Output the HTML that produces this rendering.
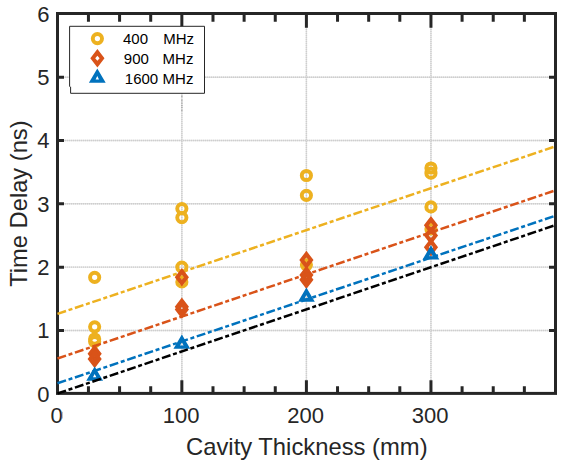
<!DOCTYPE html>
<html><head><meta charset="utf-8"><style>
html,body{margin:0;padding:0;background:#fff;}
body{width:566px;height:463px;overflow:hidden;}
svg{display:block;}
</style></head><body>
<svg width="566" height="463" viewBox="0 0 566 463" shape-rendering="geometricPrecision">
<rect x="0" y="0" width="566" height="463" fill="#ffffff"/>
<g stroke="#dfdfdf" stroke-width="1.4"><line x1="181.85" y1="15" x2="181.85" y2="393"/><line x1="306.40" y1="15" x2="306.40" y2="393"/><line x1="430.95" y1="15" x2="430.95" y2="393"/><line x1="59" y1="330.44" x2="555" y2="330.44"/><line x1="59" y1="267.13" x2="555" y2="267.13"/><line x1="59" y1="203.82" x2="555" y2="203.82"/><line x1="59" y1="140.51" x2="555" y2="140.51"/><line x1="59" y1="77.20" x2="555" y2="77.20"/></g>
<g stroke="#cecece" stroke-width="1.4" stroke-dasharray="1 1"><line x1="181.85" y1="15" x2="181.85" y2="393"/><line x1="306.40" y1="15" x2="306.40" y2="393"/><line x1="430.95" y1="15" x2="430.95" y2="393"/><line x1="59" y1="330.44" x2="555" y2="330.44"/><line x1="59" y1="267.13" x2="555" y2="267.13"/><line x1="59" y1="203.82" x2="555" y2="203.82"/><line x1="59" y1="140.51" x2="555" y2="140.51"/><line x1="59" y1="77.20" x2="555" y2="77.20"/></g>
<path d="M88.44,393.5v-7.3M88.44,13.5v8.2M119.58,393.5v-7.3M119.58,13.5v8.2M150.71,393.5v-7.3M150.71,13.5v8.2M181.85,393.5v-13.3M181.85,13.5v14.3M212.99,393.5v-7.3M212.99,13.5v8.2M244.12,393.5v-7.3M244.12,13.5v8.2M275.26,393.5v-7.3M275.26,13.5v8.2M306.40,393.5v-13.3M306.40,13.5v14.3M337.54,393.5v-7.3M337.54,13.5v8.2M368.68,393.5v-7.3M368.68,13.5v8.2M399.81,393.5v-7.3M399.81,13.5v8.2M430.95,393.5v-13.3M430.95,13.5v14.3M462.09,393.5v-7.3M462.09,13.5v8.2M493.23,393.5v-7.3M493.23,13.5v8.2M524.36,393.5v-7.3M524.36,13.5v8.2M57.5,330.44h6.5M555.5,330.44h-6.5M57.5,267.13h6.5M555.5,267.13h-6.5M57.5,203.82h6.5M555.5,203.82h-6.5M57.5,140.51h6.5M555.5,140.51h-6.5M57.5,77.20h6.5M555.5,77.20h-6.5" stroke="#262626" stroke-width="3" fill="none"/>
<rect x="57.5" y="13.5" width="498.0" height="379.9" fill="none" stroke="#262626" stroke-width="3"/>
<circle cx="94.66" cy="277.30" r="4.6" fill="none" stroke="#EDB120" stroke-width="3.95"/><circle cx="94.66" cy="326.80" r="4.6" fill="none" stroke="#EDB120" stroke-width="3.95"/><circle cx="94.66" cy="339.00" r="4.6" fill="none" stroke="#EDB120" stroke-width="3.95"/><circle cx="94.66" cy="341.60" r="4.6" fill="none" stroke="#EDB120" stroke-width="3.95"/><circle cx="181.85" cy="208.60" r="4.6" fill="none" stroke="#EDB120" stroke-width="3.95"/><circle cx="181.85" cy="217.60" r="4.6" fill="none" stroke="#EDB120" stroke-width="3.95"/><circle cx="181.85" cy="267.10" r="4.6" fill="none" stroke="#EDB120" stroke-width="3.95"/><circle cx="181.85" cy="281.90" r="4.6" fill="none" stroke="#EDB120" stroke-width="3.95"/><circle cx="306.40" cy="175.50" r="4.6" fill="none" stroke="#EDB120" stroke-width="3.95"/><circle cx="306.40" cy="195.30" r="4.6" fill="none" stroke="#EDB120" stroke-width="3.95"/><circle cx="306.40" cy="264.80" r="4.6" fill="none" stroke="#EDB120" stroke-width="3.95"/><circle cx="430.95" cy="168.00" r="4.6" fill="none" stroke="#EDB120" stroke-width="3.95"/><circle cx="430.95" cy="173.20" r="4.6" fill="none" stroke="#EDB120" stroke-width="3.95"/><circle cx="430.95" cy="206.90" r="4.6" fill="none" stroke="#EDB120" stroke-width="3.95"/><circle cx="430.95" cy="229.00" r="4.6" fill="none" stroke="#EDB120" stroke-width="3.95"/>
<line x1="57.50" y1="313.90" x2="555.50" y2="146.30" stroke="#EDB120" stroke-width="2.5" stroke-dasharray="8.968 2.696 4.009 2.696"/>
<path d="M94.66,344.50L101.76,353.80L94.66,363.10L87.56,353.80ZM94.66,351.30L96.86,353.80L94.66,356.30L92.46,353.80Z" fill="#D95319" fill-rule="evenodd"/><path d="M94.66,349.70L101.76,359.00L94.66,368.30L87.56,359.00ZM94.66,356.50L96.86,359.00L94.66,361.50L92.46,359.00Z" fill="#D95319" fill-rule="evenodd"/><path d="M181.85,267.90L188.95,277.20L181.85,286.50L174.75,277.20ZM181.85,274.70L184.05,277.20L181.85,279.70L179.65,277.20Z" fill="#D95319" fill-rule="evenodd"/><path d="M181.85,297.50L188.95,306.80L181.85,316.10L174.75,306.80ZM181.85,304.30L184.05,306.80L181.85,309.30L179.65,306.80Z" fill="#D95319" fill-rule="evenodd"/><path d="M181.85,300.20L188.95,309.50L181.85,318.80L174.75,309.50ZM181.85,307.00L184.05,309.50L181.85,312.00L179.65,309.50Z" fill="#D95319" fill-rule="evenodd"/><path d="M306.40,250.80L313.50,260.10L306.40,269.40L299.30,260.10ZM306.40,257.60L308.60,260.10L306.40,262.60L304.20,260.10Z" fill="#D95319" fill-rule="evenodd"/><path d="M306.40,265.70L313.50,275.00L306.40,284.30L299.30,275.00ZM306.40,272.50L308.60,275.00L306.40,277.50L304.20,275.00Z" fill="#D95319" fill-rule="evenodd"/><path d="M306.40,270.50L313.50,279.80L306.40,289.10L299.30,279.80ZM306.40,277.30L308.60,279.80L306.40,282.30L304.20,279.80Z" fill="#D95319" fill-rule="evenodd"/><path d="M430.95,215.90L438.05,225.20L430.95,234.50L423.85,225.20ZM430.95,222.70L433.15,225.20L430.95,227.70L428.75,225.20Z" fill="#D95319" fill-rule="evenodd"/><path d="M430.95,226.20L438.05,235.50L430.95,244.80L423.85,235.50ZM430.95,233.00L433.15,235.50L430.95,238.00L428.75,235.50Z" fill="#D95319" fill-rule="evenodd"/><path d="M430.95,238.00L438.05,247.30L430.95,256.60L423.85,247.30ZM430.95,244.80L433.15,247.30L430.95,249.80L428.75,247.30Z" fill="#D95319" fill-rule="evenodd"/>
<line x1="57.50" y1="358.50" x2="555.50" y2="190.30" stroke="#D95319" stroke-width="2.5" stroke-dasharray="8.972 2.697 4.011 2.697"/>
<path d="M94.66,366.40L103.06,380.70L86.26,380.70ZM94.66,374.00L96.36,377.30L92.96,377.30Z" fill="#0072BD" fill-rule="evenodd"/><path d="M181.85,334.50L190.25,348.80L173.45,348.80ZM181.85,342.10L183.55,345.40L180.15,345.40Z" fill="#0072BD" fill-rule="evenodd"/><path d="M306.40,287.40L314.80,301.70L298.00,301.70ZM306.40,295.00L308.10,298.30L304.70,298.30Z" fill="#0072BD" fill-rule="evenodd"/><path d="M430.95,245.30L439.35,259.60L422.55,259.60ZM430.95,252.90L432.65,256.20L429.25,256.20Z" fill="#0072BD" fill-rule="evenodd"/>
<line x1="57.50" y1="383.30" x2="555.50" y2="215.70" stroke="#0072BD" stroke-width="2.5" stroke-dasharray="8.968 2.696 4.009 2.696"/>
<line x1="57.50" y1="393.50" x2="555.50" y2="225.10" stroke="#000000" stroke-width="2.5" stroke-dasharray="8.973 2.697 4.011 2.697"/>
<g font-family='"Liberation Sans", sans-serif' font-size="22" fill="#262626"><text transform="translate(49.6,401.65) scale(1,1.03)" text-anchor="end">0</text><text transform="translate(49.6,338.34) scale(1,1.03)" text-anchor="end">1</text><text transform="translate(49.6,275.03) scale(1,1.03)" text-anchor="end">2</text><text transform="translate(49.6,211.72) scale(1,1.03)" text-anchor="end">3</text><text transform="translate(49.6,148.41) scale(1,1.03)" text-anchor="end">4</text><text transform="translate(49.6,85.10) scale(1,1.03)" text-anchor="end">5</text><text transform="translate(49.6,21.79) scale(1,1.03)" text-anchor="end">6</text><text transform="translate(56.50,423) scale(1,1.03)" text-anchor="middle">0</text><text transform="translate(181.05,423) scale(1,1.03)" text-anchor="middle">100</text><text transform="translate(305.60,423) scale(1,1.03)" text-anchor="middle">200</text><text transform="translate(430.15,423) scale(1,1.03)" text-anchor="middle">300</text></g>
<rect x="181.15" y="95.80" width="1.4" height="1.2" fill="#aaaaaa"/>
<rect x="181.15" y="99.70" width="1.4" height="1.2" fill="#aaaaaa"/>
<rect x="181.15" y="102.50" width="1.4" height="1.2" fill="#aaaaaa"/>
<rect x="181.15" y="104.90" width="1.4" height="1.2" fill="#aaaaaa"/>
<rect x="181.15" y="106.90" width="1.4" height="1.2" fill="#aaaaaa"/>
<rect x="181.15" y="109.80" width="1.4" height="1.2" fill="#aaaaaa"/>
<rect x="61.9" y="411.8" width="0.9" height="6.7" fill="#b4b4b4"/>
<text x="306.8" y="454.7" text-anchor="middle" font-family='"Liberation Sans", sans-serif' font-size="23.8" fill="#262626">Cavity Thickness (mm)</text>
<text transform="translate(27.2,203.6) rotate(-90)" x="0" y="0" text-anchor="middle" font-family='"Liberation Sans", sans-serif' font-size="23.7" fill="#262626">Time Delay (ns)</text>
<g font-family='"Liberation Sans", sans-serif' font-size="15" fill="#000000"><rect x="69.6" y="26.3" width="134.9" height="67" fill="#ffffff"/><path d="M69.6,86.7V26.3H204.5V93.3H70.6V86.7" fill="none" stroke="#262626" stroke-width="1"/><circle cx="97.40" cy="38.60" r="4.6" fill="none" stroke="#EDB120" stroke-width="3.95"/><path d="M97.40,49.00L104.50,58.30L97.40,67.60L90.30,58.30ZM97.40,55.80L99.60,58.30L97.40,60.80L95.20,58.30Z" fill="#D95319" fill-rule="evenodd"/><path d="M97.30,68.50L105.70,82.80L88.90,82.80ZM97.30,76.10L99.00,79.40L95.60,79.40Z" fill="#0072BD" fill-rule="evenodd"/><text transform="translate(123.0,44.0) scale(1,1.03)">400</text><text transform="translate(163.3,44.0) scale(1,1.03)">MHz</text><text transform="translate(123.8,63.8) scale(1,1.03)">900</text><text transform="translate(162.6,63.8) scale(1,1.03)">MHz</text><text transform="translate(124.8,84.0) scale(1,1.03)">1600</text><text transform="translate(162.6,84.0) scale(1,1.03)">MHz</text></g>
</svg>
</body></html>
